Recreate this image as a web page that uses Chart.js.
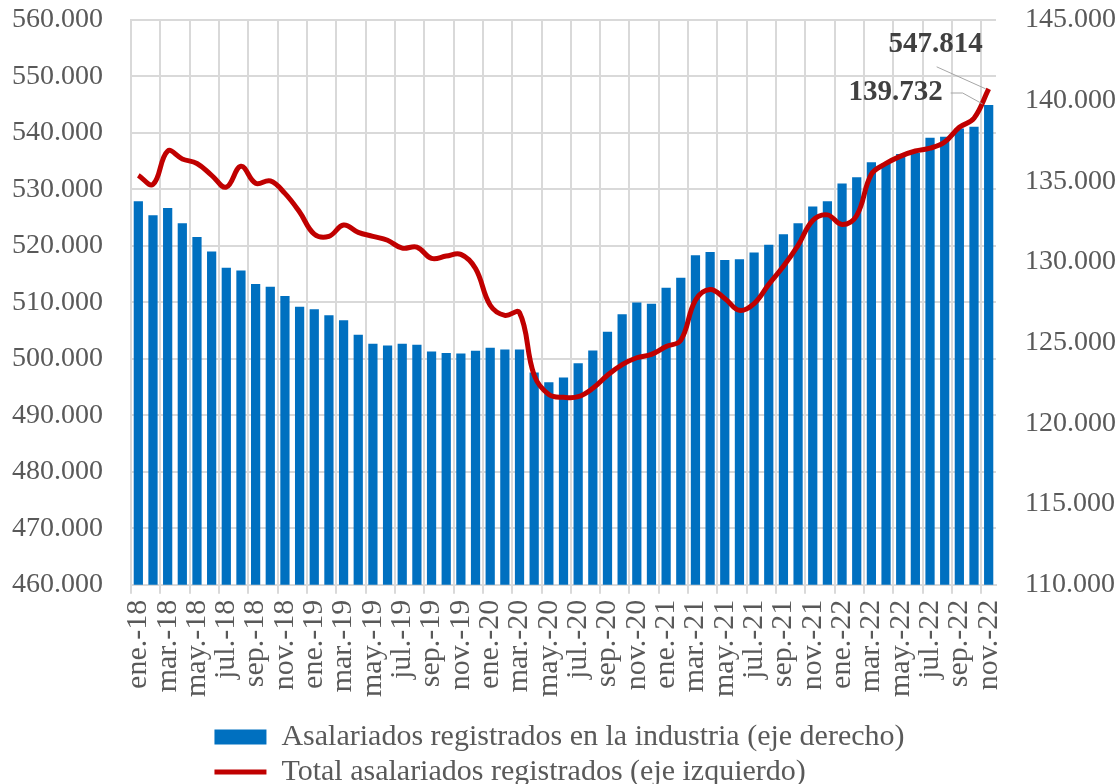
<!DOCTYPE html>
<html>
<head>
<meta charset="utf-8">
<script src="https://cdn.jsdelivr.net/npm/chart.js@4.4.1/dist/chart.umd.min.js"></script>
<style>
  html, body { margin: 0; padding: 0; background: #fff; }
  #wrap { width: 1119px; height: 784px; }
</style>
</head>
<body>
<div id="wrap"><canvas id="chart" width="1119" height="784"></canvas></div>
<script>
// months ene.-18 .. nov.-22
const meses = [
    'ene.-18', 'feb.-18', 'mar.-18', 'abr.-18', 'may.-18', 'jun.-18', 'jul.-18', 'ago.-18', 'sep.-18', 'oct.-18', 'nov.-18', 'dic.-18',
    'ene.-19', 'feb.-19', 'mar.-19', 'abr.-19', 'may.-19', 'jun.-19', 'jul.-19', 'ago.-19', 'sep.-19', 'oct.-19', 'nov.-19', 'dic.-19',
    'ene.-20', 'feb.-20', 'mar.-20', 'abr.-20', 'may.-20', 'jun.-20', 'jul.-20', 'ago.-20', 'sep.-20', 'oct.-20', 'nov.-20', 'dic.-20',
    'ene.-21', 'feb.-21', 'mar.-21', 'abr.-21', 'may.-21', 'jun.-21', 'jul.-21', 'ago.-21', 'sep.-21', 'oct.-21', 'nov.-21', 'dic.-21',
    'ene.-22', 'feb.-22', 'mar.-22', 'abr.-22', 'may.-22', 'jun.-22', 'jul.-22', 'ago.-22', 'sep.-22', 'oct.-22', 'nov.-22'
];

// asalariados registrados en la industria (eje derecho)
const industria = [
    133770, 132900, 133350, 132400, 131550, 130650, 129650, 129470, 128640, 128470, 127890, 127230,
    127070, 126700, 126400, 125500, 124940, 124830, 124940, 124870, 124460, 124360, 124340, 124500,
    124690, 124580, 124580, 123160, 122550, 122850, 123730, 124520, 125680, 126760, 127500, 127420,
    128410, 129030, 130420, 130620, 130130, 130170, 130600, 131080, 131720, 132400, 133440, 133770,
    134870, 135260, 136190, 136110, 136690, 136770, 137700, 137760, 138280, 138380, 139732
];

// total asalariados registrados (eje izquierdo)
const total = [
    532500, 530900, 536800, 535400, 534600, 532500, 530400, 534100, 531100, 531500, 529300, 526000,
    522100, 521700, 523700, 522400, 521700, 521000, 519600, 519800, 517800, 518200, 518500, 516000,
    509500, 507700, 508200, 497100, 493700, 493200, 493300, 494800, 497100, 499000, 500200, 500800,
    502200, 503300, 510400, 512300, 510700, 508600, 509800, 513200, 516400, 520100, 524500, 525500,
    523800, 525400, 532700, 534600, 535900, 536800, 537300, 538400, 541000, 542600, 547814
];

const etiquetaIndustria = 'Asalariados registrados en la industria (eje derecho)';
const etiquetaTotal = 'Total asalariados registrados (eje izquierdo)';

const AZUL = '#0070C0';
const ROJO = '#C00000';
const GRIS_TXT = '#595959';
const GRIS_GRID = '#D9D9D9';
const FUENTE = '"Liberation Serif", "Times New Roman", serif';

function miles(v) {
    return String(Math.round(v)).replace(/\B(?=(\d{3})+(?!\d))/g, '.');
}

// last-value labels with leader lines
const ultimoValor = {
    id: 'ultimoValor',
    afterLayout(chart) {
        // legend rows start at the same x, like the original
        const lw = chart.legend.lineWidths;
        const m = Math.max(...lw);
        for (let i = 0; i < lw.length; i++) lw[i] = m;
    },
    afterDatasetsDraw(chart) {
        const ctx = chart.ctx;
        const pBar = chart.getDatasetMeta(0).data[industria.length - 1];
        const pLin = chart.getDatasetMeta(1).data[total.length - 1];
        ctx.save();
        ctx.strokeStyle = '#A6A6A6';
        ctx.lineWidth = 1;
        ctx.beginPath();
        ctx.moveTo(pLin.x - 52, pLin.y - 22);
        ctx.lineTo(pLin.x - 3, pLin.y);
        ctx.stroke();
        ctx.beginPath();
        ctx.moveTo(pBar.x - 38, pBar.y - 12);
        ctx.lineTo(pBar.x - 26, pBar.y - 12);
        ctx.lineTo(pBar.x - 6, pBar.y - 1);
        ctx.stroke();
        ctx.fillStyle = '#404040';
        ctx.font = 'bold 29px ' + FUENTE;
        ctx.textAlign = 'center';
        ctx.textBaseline = 'middle';
        ctx.fillText(miles(total[total.length - 1]), pLin.x - 53, pLin.y - 44);
        ctx.textAlign = 'right';
        ctx.fillText(miles(industria[industria.length - 1]), pBar.x - 46, pBar.y - 12);
        ctx.restore();
    }
};

const ctx = document.getElementById('chart');

new Chart(ctx, {
    type: 'bar',
    data: {
        labels: meses,
        datasets: [{
            type: 'bar',
            label: etiquetaIndustria,
            data: industria,
            yAxisID: 'yDer',
            backgroundColor: AZUL,
            borderWidth: 0,
            categoryPercentage: 1,
            barPercentage: 0.63,
            pointStyle: 'rect',
            order: 1
        }, {
            type: 'line',
            label: etiquetaTotal,
            data: total,
            yAxisID: 'yIzq',
            borderColor: ROJO,
            backgroundColor: ROJO,
            borderWidth: 5,
            pointRadius: 0,
            tension: 0.4,
            pointStyle: 'line',
            order: 0
        }]
    },
    options: {
        responsive: false,
        animation: false,
        layout: {
            padding: { top: 20, left: 0, right: 0, bottom: -13 }
        },
        plugins: {
            legend: {
                position: 'bottom',
                labels: {
                    usePointStyle: true,
                    pointStyleWidth: 52,
                    boxHeight: 15,
                    padding: 5,
                    color: GRIS_TXT,
                    font: { family: FUENTE, size: 30 },
                    sort: (a, b) => a.datasetIndex - b.datasetIndex
                }
            },
            tooltip: { enabled: false }
        },
        scales: {
            x: {
                offset: true,
                afterFit: (s) => { s.height += 14; },
                grid: {
                    offset: true,
                    lineWidth: 2,
                    tickLength: 9,
                    color: (c) => (c.index % 2 === 0 ? GRIS_GRID : 'rgba(0,0,0,0)')
                },
                border: { color: GRIS_GRID, width: 2 },
                ticks: {
                    autoSkip: false,
                    maxRotation: 90,
                    minRotation: 90,
                    padding: 6,
                    color: GRIS_TXT,
                    font: { family: FUENTE, size: 30 },
                    callback: (v, i) => (i % 2 === 0 ? meses[i] : '')
                }
            },
            yIzq: {
                position: 'left',
                min: 460000,
                max: 560000,
                afterFit: (s) => { s.width = 131; s.paddingTop = 0; s.paddingBottom = 0; },
                grid: { color: GRIS_GRID, lineWidth: 2, drawTicks: false },
                border: { color: GRIS_GRID, width: 2 },
                ticks: {
                    stepSize: 10000,
                    padding: 28,
                    color: GRIS_TXT,
                    font: { family: FUENTE, size: 28 },
                    callback: (v) => miles(v)
                }
            },
            yDer: {
                position: 'right',
                min: 110000,
                max: 145000,
                afterFit: (s) => { s.width = 123; s.paddingTop = 0; s.paddingBottom = 0; },
                grid: { display: false, drawTicks: false },
                border: { display: false },
                ticks: {
                    stepSize: 5000,
                    padding: 29,
                    color: GRIS_TXT,
                    font: { family: FUENTE, size: 28 },
                    callback: (v) => miles(v)
                }
            }
        }
    },
    plugins: [ultimoValor]
});
</script>
</body>
</html>
